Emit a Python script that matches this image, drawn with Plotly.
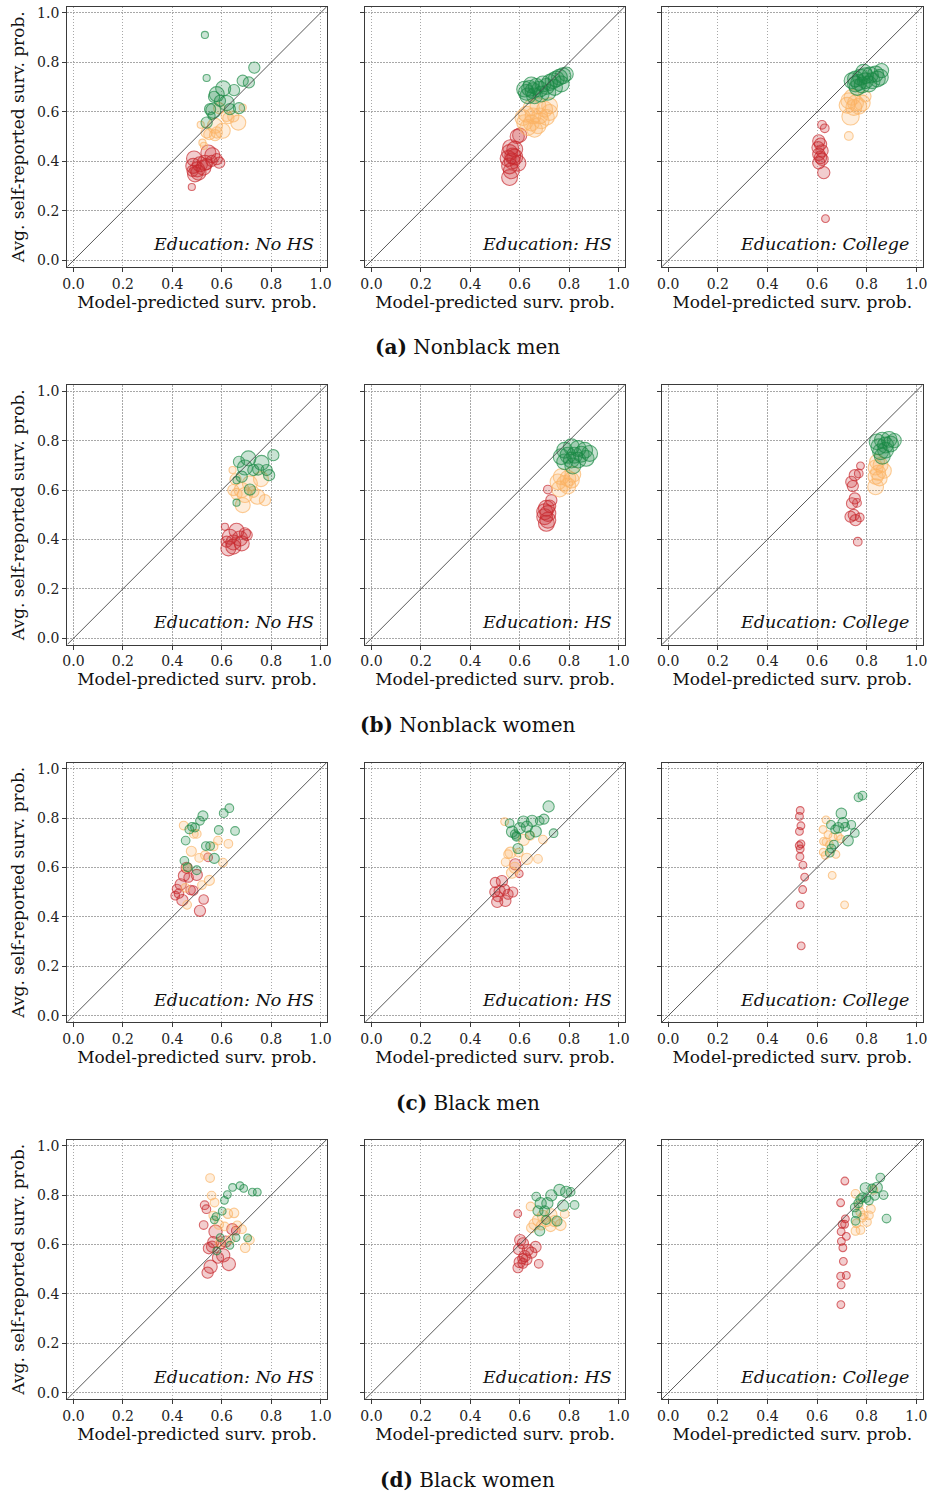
import plotly.graph_objs as go

# points: (model-predicted, self-reported, weight)
# weight = relative cell size, drawn as bubble area

# (a) Nonblack men
a_nohs_red = [(0.546, 0.436, 4.5), (0.562, 0.425, 4.5), (0.580, 0.409, 2.5), (0.590, 0.395, 2.5),
              (0.488, 0.412, 4.5), (0.532, 0.395, 4.5), (0.512, 0.389, 4.5), (0.485, 0.382, 4.5),
              (0.501, 0.368, 4.5), (0.526, 0.375, 4.5), (0.492, 0.348, 4.5), (0.482, 0.362, 2.5),
              (0.506, 0.355, 4.5), (0.539, 0.389, 2.5), (0.479, 0.297, 1), (0.559, 0.402, 2.5)]
a_nohs_orange = [(0.685, 0.618, 1), (0.590, 0.615, 2.5), (0.620, 0.584, 2.5), (0.647, 0.582, 2.5),
                 (0.627, 0.575, 2.5), (0.667, 0.557, 4.5), (0.573, 0.544, 4.5), (0.515, 0.548, 1),
                 (0.604, 0.524, 4.5), (0.539, 0.517, 2.5), (0.573, 0.506, 2.5), (0.550, 0.510, 2.5),
                 (0.522, 0.476, 1), (0.528, 0.463, 1), (0.580, 0.517, 2.5)]
a_nohs_green = [(0.532, 0.911, 1), (0.732, 0.779, 2.5), (0.539, 0.737, 1), (0.685, 0.726, 2.5),
                (0.710, 0.719, 2.5), (0.606, 0.695, 4.5), (0.650, 0.688, 2.5), (0.580, 0.672, 4.5),
                (0.569, 0.661, 2.5), (0.593, 0.645, 2.5), (0.620, 0.636, 4.5), (0.553, 0.611, 2.5),
                (0.566, 0.605, 4.5), (0.633, 0.611, 2.5), (0.670, 0.615, 2.5), (0.559, 0.584, 1),
                (0.539, 0.557, 2.5)]

a_hs_red = [(0.600, 0.506, 4), (0.590, 0.501, 4), (0.563, 0.456, 5), (0.580, 0.449, 5),
            (0.559, 0.436, 5), (0.572, 0.422, 5), (0.553, 0.412, 5), (0.569, 0.402, 5),
            (0.593, 0.393, 5), (0.559, 0.382, 5), (0.566, 0.362, 5), (0.559, 0.335, 5),
            (0.580, 0.418, 5)]
a_hs_orange = [(0.647, 0.618, 5), (0.674, 0.625, 5), (0.701, 0.611, 5), (0.721, 0.625, 5),
               (0.721, 0.598, 5), (0.627, 0.591, 5), (0.654, 0.584, 5), (0.681, 0.584, 5),
               (0.620, 0.557, 5), (0.647, 0.555, 5), (0.674, 0.544, 5), (0.633, 0.537, 5),
               (0.660, 0.530, 5), (0.687, 0.564, 5), (0.708, 0.578, 5), (0.613, 0.577, 5)]
a_hs_green = [(0.627, 0.679, 5), (0.640, 0.695, 5), (0.654, 0.686, 5), (0.667, 0.703, 5),
              (0.681, 0.692, 5), (0.694, 0.713, 5), (0.708, 0.703, 5), (0.721, 0.719, 5),
              (0.735, 0.726, 5), (0.748, 0.733, 5), (0.761, 0.740, 5), (0.775, 0.746, 5),
              (0.788, 0.753, 4), (0.633, 0.665, 5), (0.660, 0.665, 5), (0.687, 0.672, 5),
              (0.714, 0.679, 5), (0.741, 0.699, 5), (0.768, 0.713, 5), (0.647, 0.709, 5),
              (0.620, 0.692, 5)]

a_col_red = [(0.620, 0.548, 1.5), (0.631, 0.534, 1.5), (0.607, 0.483, 3), (0.614, 0.470, 3),
             (0.604, 0.456, 3), (0.620, 0.443, 3), (0.607, 0.429, 3), (0.614, 0.416, 3),
             (0.607, 0.395, 3), (0.627, 0.355, 3), (0.634, 0.169, 1.2), (0.620, 0.409, 3)]
a_col_orange = [(0.741, 0.659, 5), (0.728, 0.645, 5), (0.755, 0.636, 5), (0.782, 0.636, 5),
                (0.795, 0.663, 2.5), (0.721, 0.627, 5), (0.748, 0.618, 5), (0.735, 0.582, 6),
                (0.728, 0.503, 1.5), (0.768, 0.623, 5)]
a_col_green = [(0.755, 0.733, 5), (0.775, 0.740, 5), (0.795, 0.746, 5), (0.815, 0.749, 5),
               (0.836, 0.753, 5), (0.860, 0.767, 4), (0.755, 0.713, 5), (0.782, 0.709, 5),
               (0.809, 0.713, 5), (0.843, 0.733, 5), (0.741, 0.726, 5), (0.768, 0.719, 5),
               (0.795, 0.726, 5), (0.822, 0.726, 5), (0.855, 0.740, 5), (0.762, 0.699, 5),
               (0.788, 0.760, 5)]

# (b) Nonblack women
b_nohs_red = [(0.613, 0.451, 1), (0.660, 0.435, 4.5), (0.694, 0.425, 2.5), (0.633, 0.411, 4.5),
              (0.674, 0.404, 4.5), (0.620, 0.391, 2.5), (0.647, 0.388, 4.5), (0.681, 0.384, 4.5),
              (0.627, 0.364, 4.5), (0.647, 0.371, 4.5), (0.701, 0.418, 2.5)]
b_nohs_orange = [(0.644, 0.681, 1), (0.656, 0.643, 2.5), (0.714, 0.627, 4.5), (0.759, 0.644, 4.5),
                 (0.647, 0.600, 2.5), (0.681, 0.600, 4.5), (0.728, 0.593, 2.5), (0.660, 0.584, 2.5),
                 (0.694, 0.580, 4.5), (0.744, 0.573, 4.5), (0.775, 0.559, 2.5), (0.685, 0.539, 4.5)]
b_nohs_green = [(0.809, 0.741, 2.5), (0.708, 0.728, 4.5), (0.670, 0.714, 2.5), (0.694, 0.691, 4.5),
                (0.761, 0.710, 4.5), (0.728, 0.681, 2.5), (0.748, 0.683, 2.5), (0.782, 0.681, 2.5),
                (0.792, 0.660, 2.5), (0.681, 0.654, 2.5), (0.660, 0.640, 1), (0.714, 0.602, 2.5),
                (0.660, 0.549, 1)]

b_hs_red = [(0.714, 0.602, 1.5), (0.728, 0.559, 2.5), (0.721, 0.535, 3), (0.708, 0.526, 5),
            (0.701, 0.512, 5), (0.714, 0.505, 5), (0.701, 0.492, 5), (0.714, 0.478, 5),
            (0.708, 0.465, 5)]
b_hs_orange = [(0.815, 0.664, 5), (0.768, 0.654, 5), (0.795, 0.647, 5), (0.755, 0.633, 5),
               (0.782, 0.627, 5), (0.809, 0.640, 5), (0.761, 0.604, 5), (0.795, 0.616, 5)]
b_hs_green = [(0.782, 0.761, 5), (0.809, 0.775, 5), (0.836, 0.768, 5), (0.863, 0.761, 5),
              (0.883, 0.748, 5), (0.768, 0.735, 5), (0.795, 0.741, 5), (0.822, 0.741, 5),
              (0.849, 0.745, 5), (0.782, 0.714, 5), (0.809, 0.721, 5), (0.836, 0.721, 5),
              (0.869, 0.728, 5), (0.815, 0.697, 5)]

b_col_red = [(0.775, 0.698, 1.2), (0.768, 0.667, 1.5), (0.752, 0.660, 2.5), (0.738, 0.633, 2.5),
             (0.744, 0.616, 2.5), (0.752, 0.566, 2.5), (0.741, 0.546, 2.5), (0.761, 0.548, 1.5),
             (0.748, 0.499, 2.5), (0.735, 0.492, 2.5), (0.772, 0.489, 1.5), (0.755, 0.478, 2.5),
             (0.764, 0.391, 1.5)]
b_col_orange = [(0.842, 0.714, 4.5), (0.856, 0.701, 4.5), (0.836, 0.691, 4.5), (0.869, 0.678, 4.5),
                (0.846, 0.670, 4.5), (0.836, 0.654, 4.5), (0.852, 0.647, 4.5), (0.836, 0.613, 5)]
b_col_green = [(0.842, 0.795, 5), (0.863, 0.802, 5), (0.890, 0.805, 5), (0.911, 0.800, 4),
               (0.849, 0.775, 5), (0.876, 0.782, 5), (0.896, 0.786, 5), (0.856, 0.755, 5),
               (0.876, 0.761, 5), (0.863, 0.737, 5)]

# (c) Black men
c_nohs_red = [(0.545, 0.641, 1.5), (0.458, 0.599, 2.5), (0.447, 0.567, 2.5), (0.466, 0.560, 1.8),
              (0.499, 0.570, 2.5), (0.434, 0.532, 2.5), (0.419, 0.513, 1.8), (0.427, 0.495, 1.8),
              (0.412, 0.486, 1.5), (0.474, 0.509, 1.8), (0.485, 0.507, 1.8), (0.441, 0.468, 2.5),
              (0.527, 0.471, 1.8), (0.512, 0.425, 2.5)]
c_nohs_orange = [(0.446, 0.770, 1.5), (0.487, 0.736, 1.5), (0.499, 0.736, 1.5), (0.585, 0.709, 1.5),
                 (0.627, 0.696, 1.5), (0.567, 0.685, 1.5), (0.477, 0.666, 2), (0.532, 0.650, 1.5),
                 (0.509, 0.639, 1.5), (0.605, 0.620, 1.5), (0.458, 0.599, 1.5), (0.550, 0.548, 2),
                 (0.520, 0.529, 1.5), (0.453, 0.518, 1.5), (0.460, 0.449, 1.5)]
c_nohs_green = [(0.631, 0.840, 1.5), (0.608, 0.820, 1.5), (0.524, 0.809, 2), (0.512, 0.789, 1.5),
                (0.480, 0.765, 1.5), (0.492, 0.762, 1.5), (0.469, 0.754, 1.5), (0.588, 0.752, 1.5),
                (0.654, 0.748, 1.5), (0.454, 0.709, 1.5), (0.536, 0.687, 1.5), (0.553, 0.687, 1.5),
                (0.570, 0.637, 2), (0.449, 0.627, 1.5), (0.462, 0.601, 1.5), (0.499, 0.589, 1.5)]

c_hs_red = [(0.582, 0.613, 2.5), (0.598, 0.575, 1.2), (0.501, 0.540, 2), (0.528, 0.545, 2.5),
            (0.499, 0.501, 2), (0.519, 0.505, 2.5), (0.539, 0.512, 2), (0.572, 0.501, 2),
            (0.553, 0.492, 2), (0.509, 0.461, 2.5), (0.542, 0.465, 2.5), (0.512, 0.482, 2)]
c_hs_orange = [(0.539, 0.786, 1.2), (0.643, 0.728, 1.5), (0.616, 0.712, 2.5), (0.694, 0.713, 1.5),
               (0.596, 0.660, 1.5), (0.563, 0.660, 2.5), (0.553, 0.654, 1.5), (0.629, 0.635, 2.5),
               (0.674, 0.635, 1.5), (0.543, 0.622, 1.5), (0.580, 0.599, 2.5), (0.569, 0.579, 2.5)]
c_hs_green = [(0.717, 0.847, 2.5), (0.559, 0.779, 1.5), (0.615, 0.786, 2.5), (0.650, 0.789, 2.5),
              (0.681, 0.789, 1.5), (0.698, 0.796, 2), (0.629, 0.765, 2.5), (0.600, 0.759, 2.5),
              (0.569, 0.745, 2.5), (0.580, 0.735, 1.5), (0.587, 0.724, 1.5), (0.640, 0.731, 1.5),
              (0.665, 0.746, 2.5), (0.737, 0.739, 1.5), (0.593, 0.677, 2), (0.586, 0.728, 1.5)]

c_col_red = [(0.532, 0.831, 1.2), (0.529, 0.807, 1.2), (0.535, 0.769, 1.2), (0.529, 0.746, 1.2),
             (0.535, 0.696, 1.2), (0.528, 0.689, 1.2), (0.532, 0.675, 1.2), (0.531, 0.644, 1.2),
             (0.543, 0.610, 1.2), (0.550, 0.561, 1.2), (0.542, 0.511, 1.2), (0.532, 0.449, 1.2),
             (0.536, 0.283, 1.2)]
c_col_orange = [(0.636, 0.793, 1.2), (0.624, 0.754, 1.2), (0.644, 0.733, 1.2), (0.664, 0.724, 1.2),
                (0.685, 0.727, 1.2), (0.696, 0.716, 1.2), (0.636, 0.704, 1.2), (0.650, 0.693, 1.2),
                (0.625, 0.662, 1.2), (0.633, 0.649, 1.2), (0.676, 0.653, 1.2), (0.661, 0.568, 1.2),
                (0.711, 0.449, 1.2), (0.626, 0.706, 1.2)]
c_col_green = [(0.767, 0.884, 1.5), (0.783, 0.891, 1.5), (0.698, 0.819, 2.2), (0.656, 0.773, 1.5),
               (0.705, 0.781, 2.2), (0.738, 0.773, 1.5), (0.673, 0.754, 1.5), (0.686, 0.761, 2.2),
               (0.713, 0.765, 1.5), (0.752, 0.740, 1.5), (0.725, 0.709, 2.2), (0.668, 0.693, 1.5),
               (0.658, 0.677, 1.5), (0.651, 0.660, 1.5)]

# (d) Black women
d_nohs_red = [(0.531, 0.759, 1.5), (0.538, 0.743, 1.5), (0.527, 0.679, 1.5), (0.643, 0.662, 2.5),
              (0.657, 0.656, 1.5), (0.575, 0.652, 3.5), (0.566, 0.610, 2.5), (0.616, 0.612, 2.5),
              (0.548, 0.585, 2.5), (0.561, 0.591, 2.5), (0.606, 0.556, 3.5), (0.585, 0.547, 2.5),
              (0.629, 0.521, 3.5), (0.555, 0.510, 3.5), (0.543, 0.486, 2.5), (0.597, 0.602, 1.8)]
d_nohs_orange = [(0.553, 0.869, 1.5), (0.559, 0.798, 1.5), (0.571, 0.770, 1.5), (0.566, 0.717, 1.5),
                 (0.625, 0.725, 1.8), (0.650, 0.728, 1.8), (0.588, 0.681, 1.8), (0.612, 0.673, 1.5),
                 (0.663, 0.678, 1.5), (0.682, 0.662, 1.5), (0.636, 0.621, 1.5), (0.714, 0.618, 1.5),
                 (0.695, 0.587, 1.8), (0.593, 0.608, 1.5)]
d_nohs_green = [(0.674, 0.838, 1.2), (0.644, 0.831, 1.2), (0.689, 0.827, 1.2), (0.724, 0.812, 1.2),
                (0.744, 0.812, 1.2), (0.623, 0.802, 1.2), (0.611, 0.779, 1.2), (0.602, 0.735, 1.2),
                (0.577, 0.713, 1.2), (0.570, 0.700, 1.2), (0.658, 0.628, 1.2), (0.705, 0.627, 1.2),
                (0.594, 0.628, 1.2), (0.633, 0.597, 1.2), (0.580, 0.574, 1.2)]

d_hs_red = [(0.592, 0.725, 1.2), (0.602, 0.618, 2.5), (0.613, 0.605, 2.5), (0.664, 0.590, 2.5),
            (0.597, 0.581, 2.5), (0.633, 0.578, 2.5), (0.647, 0.567, 2.5), (0.620, 0.553, 2.5),
            (0.627, 0.540, 2.5), (0.600, 0.529, 2.5), (0.613, 0.524, 2), (0.593, 0.506, 2),
            (0.677, 0.522, 1.5), (0.612, 0.543, 2)]
d_hs_orange = [(0.644, 0.754, 1.5), (0.782, 0.724, 1.5), (0.728, 0.722, 2.5), (0.694, 0.716, 2.5),
               (0.674, 0.699, 2.5), (0.707, 0.695, 2.5), (0.741, 0.695, 2.5), (0.765, 0.679, 2.5),
               (0.660, 0.682, 2.5), (0.647, 0.668, 1.8), (0.725, 0.675, 2.5), (0.687, 0.678, 1.8)]
d_hs_green = [(0.761, 0.821, 2.5), (0.788, 0.813, 2.5), (0.806, 0.813, 1.5), (0.667, 0.794, 1.5),
              (0.728, 0.799, 2.5), (0.822, 0.760, 1.5), (0.776, 0.757, 2.5), (0.685, 0.767, 2.5),
              (0.712, 0.767, 2.5), (0.674, 0.736, 2), (0.701, 0.736, 2), (0.751, 0.695, 2),
              (0.681, 0.655, 2), (0.707, 0.699, 1.5)]

d_col_red = [(0.712, 0.857, 1.2), (0.695, 0.769, 1.2), (0.714, 0.704, 1.2), (0.701, 0.682, 1.2),
             (0.711, 0.682, 1.2), (0.697, 0.652, 1.2), (0.718, 0.633, 1.2), (0.698, 0.613, 1.2),
             (0.704, 0.587, 1.2), (0.706, 0.532, 1.2), (0.695, 0.472, 1.2), (0.718, 0.475, 1.2),
             (0.697, 0.437, 1.2), (0.696, 0.357, 1.2)]
d_col_orange = [(0.755, 0.805, 1.5), (0.827, 0.821, 1.5), (0.768, 0.759, 1.5), (0.817, 0.744, 1.5),
                (0.774, 0.732, 1.5), (0.788, 0.718, 1.5), (0.809, 0.718, 1.5), (0.782, 0.709, 1.5),
                (0.801, 0.691, 1.5), (0.755, 0.655, 1.5), (0.775, 0.659, 1.5), (0.759, 0.686, 1.5)]
d_col_green = [(0.855, 0.871, 1.5), (0.795, 0.829, 2.2), (0.822, 0.827, 1.5), (0.842, 0.831, 2.2),
               (0.868, 0.800, 1.5), (0.833, 0.797, 1.5), (0.782, 0.791, 1.5), (0.798, 0.788, 1.5),
               (0.809, 0.778, 1.5), (0.774, 0.783, 1.5), (0.766, 0.767, 1.5), (0.752, 0.750, 1.5),
               (0.760, 0.725, 1.5), (0.755, 0.696, 1.5), (0.880, 0.705, 1.5)]

education = ["No HS", "HS", "College"]
captions = [("(a)", "Nonblack men"), ("(b)", "Nonblack women"),
            ("(c)", "Black men"), ("(d)", "Black women")]
ticks = [0.0, 0.2, 0.4, 0.6, 0.8, 1.0]

panels = [
    [(a_nohs_red, a_nohs_orange, a_nohs_green), (a_hs_red, a_hs_orange, a_hs_green), (a_col_red, a_col_orange, a_col_green)],
    [(b_nohs_red, b_nohs_orange, b_nohs_green), (b_hs_red, b_hs_orange, b_hs_green), (b_col_red, b_col_orange, b_col_green)],
    [(c_nohs_red, c_nohs_orange, c_nohs_green), (c_hs_red, c_hs_orange, c_hs_green), (c_col_red, c_col_orange, c_col_green)],
    [(d_nohs_red, d_nohs_orange, d_nohs_green), (d_hs_red, d_hs_orange, d_hs_green), (d_col_red, d_col_orange, d_col_green)],
]

W, H = 931, 1493
edge = ["#c8282d", "#fbb363", "#1a8a45"]
fill = ["rgba(200,40,45,0.33)", "rgba(251,179,99,0.33)", "rgba(26,138,69,0.33)"]
col_px = [(67.3, 326.7), (365.3, 624.7), (662.0, 922.5)]
row_px = [(6.7, 266.7), (385.0, 644.5), (762.5, 1022.0), (1139.5, 1399.0)]
lim = [-0.025, 1.025]
serif = "DejaVu Serif"

fig = go.Figure()
layout = dict(width=W, height=H, margin=dict(l=0, r=0, t=0, b=0, autoexpand=False),
              plot_bgcolor="white", paper_bgcolor="white", showlegend=False,
              annotations=[], shapes=[])

k = 0
for r in range(4):
    for c in range(3):
        k += 1
        sfx = "" if k == 1 else str(k)
        for g in range(3):
            pts = panels[r][c][g]
            fig.add_trace(go.Scatter(
                x=[p[0] for p in pts], y=[p[1] for p in pts], mode="markers",
                xaxis="x" + sfx, yaxis="y" + sfx, hoverinfo="skip",
                marker=dict(size=[p[2] for p in pts], sizemode="area", sizeref=0.04,
                            color=fill[g], line=dict(color=edge[g], width=1.1))))
        ax = dict(range=lim, tickvals=ticks, ticktext=["%.1f" % t for t in ticks],
                  showline=True, linecolor="#3a3a3a", linewidth=1.3, mirror=True,
                  ticks="outside", ticklen=4, tickcolor="#3a3a3a", tickwidth=1,
                  showgrid=True, gridcolor="#a8a8a8", griddash="1.5px,1.5px", gridwidth=1,
                  zeroline=False, fixedrange=True, automargin=False,
                  tickfont=dict(family=serif, size=14, color="#222"))
        xa = dict(ax, domain=[col_px[c][0] / W, col_px[c][1] / W], anchor="y" + sfx,
                  title=dict(text="Model-predicted surv. prob.", standoff=3,
                             font=dict(family=serif, size=17, color="#111")))
        ya = dict(ax, domain=[1 - row_px[r][1] / H, 1 - row_px[r][0] / H], anchor="x" + sfx)
        if c == 0:
            ya["title"] = dict(text="Avg. self-reported surv. prob.", standoff=8,
                               font=dict(family=serif, size=17, color="#111"))
        else:
            ya["showticklabels"] = False
        layout["xaxis" + sfx] = xa
        layout["yaxis" + sfx] = ya
        # 45 degree reference line
        layout["shapes"].append(dict(type="line", xref="x" + sfx, yref="y" + sfx,
                                     x0=lim[0], y0=lim[0], x1=lim[1], y1=lim[1],
                                     line=dict(color="#444", width=0.9), layer="above"))
        layout["annotations"].append(dict(
            text="<i>Education: %s</i>" % education[c], showarrow=False,
            xref="x%s domain" % sfx, yref="y%s domain" % sfx, x=0.957, y=0.04,
            xanchor="right", yanchor="bottom",
            font=dict(family=serif, size=17.5, color="#111")))
    # panel caption
    layout["annotations"].append(dict(
        text="<b>%s</b> %s" % captions[r], showarrow=False, xref="paper", yref="paper",
        x=468 / W, y=1 - (row_px[r][1] + 80.5) / H, xanchor="center", yanchor="middle",
        font=dict(family=serif, size=20, color="#111")))

fig.update_layout(**layout)
# drop the default 8px body margin so the figure sits at the page corner
fig.write_html("out.html", config={"displayModeBar": False},
               post_script="document.body.style.margin='0';")
